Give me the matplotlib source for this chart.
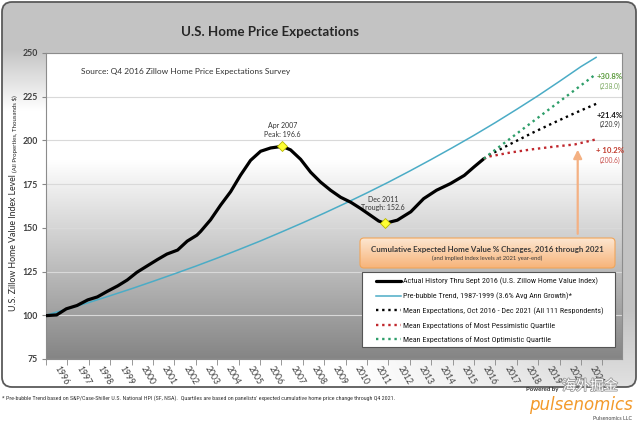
import numpy as np
import matplotlib
matplotlib.use('Agg')
import matplotlib.pyplot as plt
from matplotlib.patches import FancyBboxPatch, Rectangle
from matplotlib import font_manager as fm
from matplotlib.font_manager import FontProperties
import matplotlib.patheffects as pe


def pick(*names):
    for n in names:
        try:
            fm.findfont(FontProperties(family=n), fallback_to_default=False)
            return n
        except Exception:
            pass
    return 'DejaVu Sans'


SANS = pick('Lato', 'Open Sans', 'DejaVu Sans')
NARROW = pick('Liberation Sans Narrow', 'DejaVu Sans Condensed', 'Roboto Condensed', 'Lato')
ROUND = pick('DejaVu Sans')
CJK = pick('Noto Sans CJK SC', 'DejaVu Sans')

# ---------------- data ----------------
hist_years = [1996.25, 1996.75, 1997.2, 1997.7, 1998.2, 1998.65, 1999.1, 1999.6,
              2000.05, 2000.5, 2001.0, 2001.45, 2001.9, 2002.4, 2002.85, 2003.3,
              2003.48, 2003.94, 2004.41, 2004.88, 2005.34, 2005.81, 2006.28, 2006.75,
              2007.29, 2007.68, 2008.15, 2008.62, 2009.08, 2009.55, 2010.02, 2010.5,
              2010.95, 2011.4, 2011.8, 2012.1, 2012.67, 2013.3, 2013.9, 2014.5,
              2015.15, 2015.8, 2016.25, 2016.71]
hist_vals = [99.8, 100.2, 103.7, 105.6, 108.8, 110.5, 113.6, 116.8,
             120.2, 124.6, 128.4, 131.8, 135.0, 137.3, 142.4, 145.8,
             148.0, 154.6, 163.0, 170.7, 180.1, 188.6, 193.8, 195.7,
             196.6, 194.6, 189.2, 181.8, 176.2, 171.5, 167.5, 164.6,
             161.1, 157.3, 153.9, 152.6, 154.4, 159.2, 166.7, 171.5,
             175.3, 180.0, 184.8, 189.5]

trend_years = [1996.25, 1997.25, 1998.25, 1999.25, 2000.25, 2001.25, 2002.25,
               2003.25, 2004.25, 2005.25, 2006.25, 2007.25, 2008.25, 2009.25,
               2010.25, 2011.25, 2012.25, 2013.25, 2014.25, 2015.25, 2016.25,
               2017.25, 2018.25, 2019.25, 2020.25, 2021.25, 2021.96]
trend_vals = [100.0, 103.6, 107.3, 111.2, 115.2, 119.4, 123.7, 128.1, 132.7,
              137.5, 142.4, 147.6, 152.9, 158.4, 164.1, 170.0, 176.1, 182.5,
              189.1, 195.9, 202.9, 210.2, 217.8, 225.6, 233.8, 242.2, 247.5]

fc_years = [2016.71, 2016.96, 2017.96, 2018.96, 2019.96, 2020.96, 2021.96]
fc_mean = [189.5, 191.6, 198.0, 204.2, 210.0, 215.6, 220.9]
fc_pess = [189.5, 190.8, 193.1, 194.9, 196.4, 197.7, 200.6]
fc_opt = [189.5, 192.0, 201.2, 210.4, 219.6, 228.8, 238.0]

peak_year, peak_val = 2007.29, 196.6
trough_year, trough_val = 2012.1, 152.6

pct_labels = ['+30.8%', '+21.4%', '+ 10.2%']
level_labels = ['(238.0)', '(220.9)', '(200.6)']
pct_colors = ['#5b9b3d', '#1a1a1a', '#c0392b']
level_colors = ['#7aa860', '#333333', '#c8504d']
pct_y = [236.8, 214.0, 194.1]
level_y = [231.1, 208.9, 188.4]

year_labels = [str(y) for y in range(1996, 2022)]
y_ticks = [75, 100, 125, 150, 175, 200, 225, 250]

legend_labels = [
    'Actual History Thru Sept 2016 (U.S. Zillow Home Value Index)',
    'Pre-bubble Trend, 1987-1999 (3.6% Avg Ann Growth)*',
    'Mean Expectations, Oct 2016 - Dec 2021 (All 111 Respondents)',
    'Mean Expectations of Most Pessimistic Quartile',
    'Mean Expectations of Most Optimistic Quartile',
]

W, H = 640, 421
fig = plt.figure(figsize=(W / 100, H / 100), dpi=100)
fig.patch.set_facecolor('white')

# ---------------- background frame ----------------
bg = fig.add_axes([0, 0, 1, 1], zorder=-1)
bg.axis('off')
yy, xx = np.mgrid[0:1:200j, 0:1:300j]
s_top = np.clip((0.28 - yy) / 0.16, 0, 1)
s_right = np.clip((xx - 0.55) / 0.4, 0, 1) * (1 - 0.5 * np.clip((yy - 0.8) / 0.2, 0, 1))
g = 1 - 0.235 * np.maximum(s_top, s_right)
frame = FancyBboxPatch((2, 2), 634, 385, boxstyle='round,pad=0,rounding_size=10',
                       fc='none', ec='#5a5a5a', lw=1.3, zorder=3)
bg.add_patch(frame)
im = bg.imshow(np.stack([g, g, g], axis=-1), extent=(2, 636, 387, 2), aspect='auto',
               interpolation='bilinear', zorder=1)
im.set_clip_path(frame)
bg.set_xlim(0, W)
bg.set_ylim(H, 0)

# ---------------- main axes ----------------
ax = fig.add_axes([46 / W, 1 - 359 / H, 576 / W, 306 / H], zorder=1)
x0, x1 = 1996.25, 2023.17
y0, y1 = 75, 250
f = np.linspace(0, 1, 256)
gp = np.where(f < 0.35, 1.0, 1 - 0.48 * (f - 0.35) / 0.65)
gimg = np.stack([gp, gp, gp], axis=-1)[:, None, :].repeat(2, axis=1)
ax.imshow(gimg, extent=(x0, x1, y0, y1), aspect='auto', interpolation='bilinear',
          zorder=0, origin='upper')
ax.patch.set_visible(False)
ax.set_xlim(x0, x1)
ax.set_ylim(y0, y1)
ax.set_axisbelow(True)
ax.yaxis.grid(True, color='#d9d9d9', lw=0.8)

l_hist, = ax.plot(hist_years, hist_vals, color='black', lw=2.3, solid_joinstyle='round',
                  solid_capstyle='round', zorder=4)
l_trend, = ax.plot(trend_years, trend_vals, color='#4bacc6', lw=1.1, zorder=3)
dots = (0, (1, 1.6))
l_mean, = ax.plot(fc_years, fc_mean, color='black', lw=1.7, ls=dots, dash_capstyle='butt', zorder=4)
l_pess, = ax.plot(fc_years, fc_pess, color='#c0272d', lw=1.7, ls=dots, dash_capstyle='butt', zorder=4)
l_opt, = ax.plot(fc_years, fc_opt, color='#2e9e6a', lw=1.7, ls=dots, dash_capstyle='butt', zorder=4)

ax.plot([peak_year], [peak_val], marker='D', ms=5, mfc='#ffff33', mec='#b5b500', mew=0.6, zorder=6, ls='none')
ax.plot([trough_year], [trough_val], marker='D', ms=5, mfc='#ffff33', mec='#b5b500', mew=0.6, zorder=6, ls='none')

ax.text(peak_year, 208.3, 'Apr 2007', ha='center', va='center', fontsize=5, family=SANS, color='#333')
ax.text(peak_year, 203.6, 'Peak: 196.6', ha='center', va='center', fontsize=5, family=SANS, color='#333')
ax.text(2012.0, 166.4, 'Dec 2011', ha='center', va='center', fontsize=5, family=SANS, color='#333')
ax.text(2012.0, 161.6, 'Trough: 152.6', ha='center', va='center', fontsize=5, family=SANS, color='#333')

for t, yv, c in zip(pct_labels, pct_y, pct_colors):
    ax.text(2022.6, yv, t, ha='center', va='center', fontsize=5.6, family=SANS, weight='bold', color=c)
for t, yv, c in zip(level_labels, level_y, level_colors):
    ax.text(2022.6, yv, t, ha='center', va='center', fontsize=4.8, family=SANS, color=c)

ax.annotate('', xy=(2021.1, 196.3), xytext=(2021.1, 145.0),
            arrowprops=dict(arrowstyle='-|>,head_length=0.5,head_width=0.25', color='#f4b183', lw=1.6),
            zorder=5)

ax.text(1997.9, 239.3, 'Source: Q4 2016 Zillow Home Price Expectations Survey', ha='left', va='center',
        fontsize=6, family=SANS, color='#333')

ax.set_yticks(y_ticks)
ax.set_yticklabels([str(v) for v in y_ticks], fontsize=6.3, family=SANS, weight='bold', color='#404040')
ax.tick_params(axis='y', length=3, color='#888888', pad=3)
ax.set_xticks([int(y) + 1.0 for y in year_labels])
ax.set_xticklabels(year_labels, rotation=-60, ha='center', va='top', fontsize=6.2,
                   family=SANS, color='#404040')
ax.set_xticks([int(y) + 0.25 for y in year_labels] + [2022.25], minor=True)
ax.tick_params(axis='x', which='major', length=0, pad=4)
ax.tick_params(axis='x', which='minor', length=4, color='#888888')
for s in ax.spines.values():
    s.set_color('#8c8c8c')
    s.set_linewidth(0.8)

# ---------------- overlay (pixel coords) ----------------
ov = fig.add_axes([0, 0, 1, 1], zorder=5)
ov.axis('off')
ov.patch.set_visible(False)

ov.text(270, 32, 'U.S. Home Price Expectations', ha='center', va='center', fontsize=9.6,
        family=SANS, weight='bold', color='#262626')

ov.text(14, 311, 'U.S. Zillow Home Value Index Level', rotation=90, ha='center', va='bottom',
        fontsize=6.3, family=SANS, color='#262626')
ov.text(15.5, 172, '(All Properties, Thousands $)', rotation=90, ha='center', va='bottom',
        fontsize=4.4, family=SANS, color='#262626')

# orange callout box
box = FancyBboxPatch((360, 238), 255, 30, boxstyle='round,pad=0,rounding_size=4',
                     fc='none', ec='#f0a55a', lw=0.8, zorder=3)
ov.add_patch(box)
go = np.linspace(0, 1, 64)[:, None, None]
top = np.array([253, 230, 208]) / 255
bot = np.array([247, 180, 122]) / 255
oimg = (top[None, None, :] * (1 - go) + bot[None, None, :] * go).repeat(2, axis=1)
oim = ov.imshow(oimg, extent=(360, 615, 268, 238), aspect='auto', interpolation='bilinear', zorder=2)
oim.set_clip_path(box)
ov.text(487.5, 249, 'Cumulative Expected Home Value % Changes, 2016 through 2021', ha='center',
        va='center', fontsize=5.7, family=SANS, weight='bold', color='#3a3a3a', zorder=4)
ov.text(487.5, 258.5, '(and implied index levels at 2021 year-end)', ha='center', va='center',
        fontsize=4.2, family=SANS, color='#3a3a3a', zorder=4)

# legend
ov.add_patch(Rectangle((362, 272), 253, 75, fc='white', ec='#555555', lw=0.8, zorder=1))
ov.legend([l_hist, l_trend, l_mean, l_pess, l_opt], legend_labels, loc='upper left',
          bbox_to_anchor=(376 / W, 1 - 277.5 / H), bbox_transform=fig.transFigure, frameon=False,
          borderpad=0, borderaxespad=0, handlelength=3.1, handletextpad=0.2, labelspacing=0.90,
          prop=FontProperties(family=NARROW, size=5.8), labelcolor='#1a1a1a')

# footnote
ov.text(2, 398, "* Pre-bubble Trend based on S&P/Case-Shiller U.S. National HPI (SF, NSA).  Quartiles are based on "
        "panelists' expected cumulative home price change through Q4 2021.", ha='left', va='center',
        fontsize=4.3, family=NARROW, color='#333333')

# logo
ov.text(526, 390, 'Powered by', ha='left', va='center', fontsize=4.3, family=SANS, weight='bold', color='#333')
ov.text(633, 405, 'pulsenomics', ha='right', va='center', fontsize=12, family=ROUND, style='italic',
        color='#f39a2b')
ov.text(632, 418, 'Pulsenomics LLC', ha='right', va='center', fontsize=3.8, family=SANS, color='#444')
ov.text(590, 386, '海外掘金', ha='center', va='center', fontsize=10, family=CJK, color='white',
        path_effects=[pe.withStroke(linewidth=1.2, foreground='#9a9a9a')], zorder=6)

ov.set_xlim(0, W)
ov.set_ylim(H, 0)

fig.savefig('out.png', dpi=100, facecolor='white')
